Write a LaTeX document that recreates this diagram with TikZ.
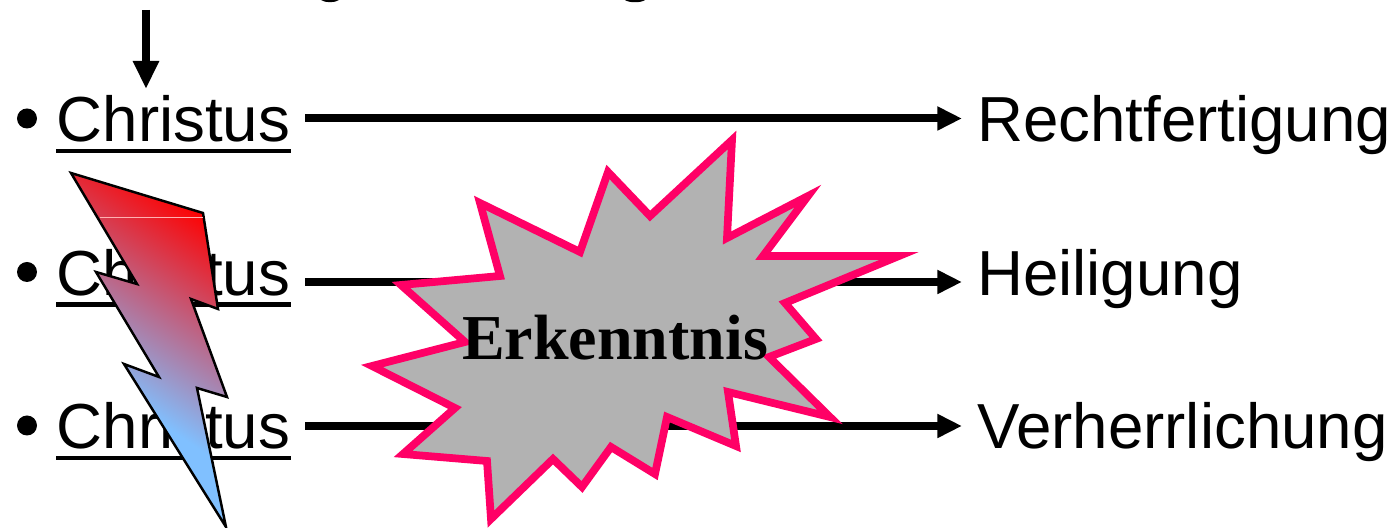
\documentclass[tikz,border=0pt]{standalone}
\usepackage{fontspec}
\setmainfont{Liberation Sans}
\newfontfamily\burstfont{Liberation Serif}
\usetikzlibrary{positioning,calc,arrows.meta}
\definecolor{burstline}{RGB}{255,0,102}
\definecolor{burstfill}{RGB}{178,178,178}
\definecolor{boltblue}{RGB}{128,192,255}
\pgfdeclareverticalshading{boltshade}{100bp}{color(0bp)=(boltblue); color(40bp)=(boltblue); color(60bp)=(red); color(100bp)=(red)}
\newcommand{\boltpath}{(71,173) -- (203,213) -- (218,309) -- (191,299) -- (227,397) -- (197,388) -- (226,527)
	-- (124,364) -- (159,377) -- (96,272) -- (137,284) -- cycle}
\tikzset{
	rowtext/.style={inner sep=0pt, anchor=base west, font=\fontsize{18.1}{20}\selectfont},
	linkline/.style={line width=2.27pt, -{Triangle[length=7pt,width=6.4pt]}},
	bar/.style={line width=1.4pt},
}
\begin{document}
\begin{tikzpicture}[x=0.01cm,y=-0.01cm]
	\useasboundingbox (0,0) rectangle (1394,528);
	\clip (0,0) rectangle (1394,528);
	% rest of the line above
	\fill (321,0) .. controls (325,3) and (335,3) .. (339,0) -- cycle;
	\fill (625,0) .. controls (629,3) and (641,3) .. (645,0) -- cycle;
	\coordinate (top) at (146,10);
	\coordinate (topend) at (146,89);
	% rows
	\foreach \n/\y/\ly/\rtext in {a/142/118.5/Rechtfertigung,b/295.5/282/Heiligung,c/449/426/Verherrlichung} {
		\fill (27,\y-23.5) circle (10);
		\node[rowtext] (chr\n) at (56,\y) {Christus};
		\draw[bar] (56,\y+9) -- (291,\y+9);
		\node[rowtext] (res\n) at (976.5,\y) {\rtext};
		\coordinate (st\n) at (305,\ly);
		\coordinate (en\n) at (962,\ly);
		\draw[linkline] (st\n) -- (en\n);
	}
	\draw[line width=2.27pt, -{Triangle[length=8pt,width=7pt]}] (top) -- (topend);
	% bolt
	\begin{scope}
		\clip \boltpath;
		\shade[shading=boltshade, shading angle=-34] (-100,46) rectangle (400,546);
	\end{scope}
	\draw[black, line width=0.7pt] \boltpath;
	\draw[red!30!white, line width=0.25pt] (100,217) -- (203,217);
	% burst
	\draw[line width=2.2pt, draw=burstline, fill=burstfill, miter limit=10]
		(732,140) -- (727,238) -- (808,196) -- (763,256) -- (899,256) -- (785,303) -- (816,339)
		-- (769,357) -- (830,417) -- (728,392) -- (736,446) -- (667,417) -- (655,474) -- (611,447)
		-- (582,487) -- (553,459) -- (491,519) -- (487,461) -- (403,454) -- (455,408) -- (372,366)
		-- (465,342) -- (401,285) -- (500,276) -- (480,203) -- (580,252) -- (608,172) -- (650,216) -- cycle;
	\node[inner sep=0pt, anchor=base, font=\fontsize{18.2}{20}\selectfont\burstfont\bfseries] (know) at (615,359.5) {Erkenntnis};
\end{tikzpicture}
\end{document}
